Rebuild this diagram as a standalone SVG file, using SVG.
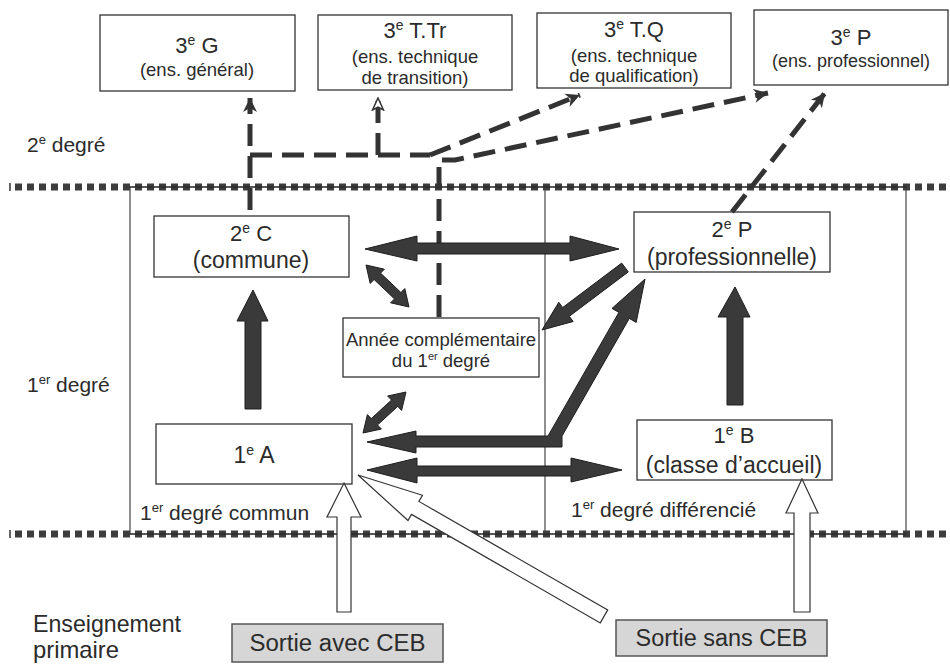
<svg xmlns="http://www.w3.org/2000/svg" width="950" height="666" viewBox="0 0 950 666">
<defs>
<style>
.box{fill:#fff;stroke:#333;stroke-width:1.3}
.gbox{fill:#d6d6d6;stroke:#555;stroke-width:1.5}
.t{font-family:"Liberation Sans",Arial,Helvetica,sans-serif;fill:#2b2b2b}
.dark{fill:#3a3a3a;stroke:#1e1e1e;stroke-width:1}
.white{fill:#fff;stroke:#333;stroke-width:1.2}
.dash{fill:none;stroke:#333;stroke-width:5;stroke-dasharray:22 10}
.band{stroke:#3d3d3d;stroke-width:7;stroke-dasharray:7 5}
.frame{fill:none;stroke:#444;stroke-width:1.2}
</style>
<marker id="ah" markerUnits="userSpaceOnUse" markerWidth="16" markerHeight="16" viewBox="0 0 16 16" refX="15" refY="8" orient="auto">
<path d="M1,1 L15,8 L1,15 L5,8 Z" fill="#333"/>
</marker>
<marker id="ahw" markerUnits="userSpaceOnUse" markerWidth="14" markerHeight="14" viewBox="0 0 14 14" refX="13" refY="7" orient="auto">
<path d="M1,1.5 L13,7 L1,12.5 L4,7 Z" fill="#fff" stroke="#333" stroke-width="1.5"/>
</marker>
</defs>
<rect width="950" height="666" fill="#fff"/>

<g id="bands">
<rect class="frame" x="130" y="187" width="776" height="347"/>
<line class="frame" x1="545" y1="187" x2="545" y2="534"/>
<line class="band" x1="15" y1="187" x2="950" y2="187"/>
<line class="band" x1="15" y1="534" x2="950" y2="534"/>
<line x1="130" y1="187" x2="906" y2="187" stroke="#222" stroke-width="1.2"/>
<line x1="130" y1="534" x2="906" y2="534" stroke="#222" stroke-width="1.2"/>
<line x1="10" y1="183" x2="10" y2="191" stroke="#333" stroke-width="1.5"/>
<line x1="10" y1="530" x2="10" y2="538" stroke="#333" stroke-width="1.5"/>
</g>

<g id="labels">
<text class="t" x="27" y="152" font-size="21">2<tspan dy="-8" font-size="13">e</tspan><tspan dy="8"> degré</tspan></text>
<text class="t" x="27" y="392" font-size="21">1<tspan dy="-8" font-size="13">er</tspan><tspan dy="8"> degré</tspan></text>
<text class="t" x="140" y="520" font-size="21">1<tspan dy="-8" font-size="13">er</tspan><tspan dy="8"> degré commun</tspan></text>
<text class="t" x="571" y="517" font-size="21">1<tspan dy="-8" font-size="13">er</tspan><tspan dy="8"> degré différencié</tspan></text>
<text class="t" x="33" y="632" font-size="24" textLength="148" lengthAdjust="spacingAndGlyphs">Enseignement</text>
<text class="t" x="33" y="658" font-size="24" textLength="86" lengthAdjust="spacingAndGlyphs">primaire</text>
</g>

<g id="n3G">
<rect class="box" x="100" y="15" width="195" height="76"/>
<text class="t" x="197" y="53" font-size="22" text-anchor="middle">3<tspan dy="-8" font-size="14">e</tspan><tspan dy="8"> G</tspan></text>
<text class="t" x="197" y="76" font-size="18.5" text-anchor="middle">(ens. général)</text>
</g>
<g id="n3TTr">
<rect class="box" x="318" y="15" width="194" height="75"/>
<text class="t" x="415" y="38" font-size="22" text-anchor="middle">3<tspan dy="-8" font-size="14">e</tspan><tspan dy="8"> T.Tr</tspan></text>
<text class="t" x="415" y="63" font-size="18.5" text-anchor="middle">(ens. technique</text>
<text class="t" x="415" y="84" font-size="18.5" text-anchor="middle">de transition)</text>
</g>
<g id="n3TQ">
<rect class="box" x="537" y="13" width="194" height="75"/>
<text class="t" x="634" y="37" font-size="22" text-anchor="middle">3<tspan dy="-8" font-size="14">e</tspan><tspan dy="8"> T.Q</tspan></text>
<text class="t" x="634" y="62" font-size="18.5" text-anchor="middle">(ens. technique</text>
<text class="t" x="634" y="82" font-size="18.5" text-anchor="middle">de qualification)</text>
</g>
<g id="n3P">
<rect class="box" x="754" y="10" width="194" height="75"/>
<text class="t" x="851" y="45" font-size="22" text-anchor="middle">3<tspan dy="-8" font-size="14">e</tspan><tspan dy="8"> P</tspan></text>
<text class="t" x="851" y="67" font-size="18" text-anchor="middle">(ens. professionnel)</text>
</g>

<g id="n2C">
<rect class="box" x="154" y="216" width="195" height="61"/>
<text class="t" x="251" y="241" font-size="22" text-anchor="middle">2<tspan dy="-8" font-size="14">e</tspan><tspan dy="8"> C</tspan></text>
<text class="t" x="251" y="268" font-size="23" text-anchor="middle">(commune)</text>
</g>
<g id="n2P">
<rect class="box" x="634" y="212" width="196" height="60"/>
<text class="t" x="732" y="237" font-size="22" text-anchor="middle">2<tspan dy="-8" font-size="14">e</tspan><tspan dy="8"> P</tspan></text>
<text class="t" x="732" y="265" font-size="23" text-anchor="middle">(professionnelle)</text>
</g>
<g id="nAnnee">
<rect class="box" x="343" y="318" width="196" height="59"/>
<text class="t" x="441" y="346" font-size="18.5" text-anchor="middle">Année complémentaire</text>
<text class="t" x="441" y="367" font-size="18.5" text-anchor="middle">du 1<tspan dy="-7" font-size="11">er</tspan><tspan dy="7"> degré</tspan></text>
</g>
<g id="n1A">
<rect class="box" x="156" y="424" width="196" height="60"/>
<text class="t" x="254" y="463" font-size="23" text-anchor="middle">1<tspan dy="-8" font-size="14">e</tspan><tspan dy="8"> A</tspan></text>
</g>
<g id="n1B">
<rect class="box" x="637" y="420" width="195" height="60"/>
<text class="t" x="734" y="443" font-size="22" text-anchor="middle">1<tspan dy="-8" font-size="14">e</tspan><tspan dy="8"> B</tspan></text>
<text class="t" x="734" y="473" font-size="23" text-anchor="middle">(classe d’accueil)</text>
</g>
<g id="nSortieAvec">
<rect class="gbox" x="232" y="624" width="211" height="38"/>
<text class="t" x="337.5" y="651" font-size="23" text-anchor="middle" textLength="176" lengthAdjust="spacingAndGlyphs">Sortie avec CEB</text>
</g>
<g id="nSortieSans">
<rect class="gbox" x="616" y="620" width="211" height="36"/>
<text class="t" x="721.5" y="646" font-size="23" text-anchor="middle" textLength="172" lengthAdjust="spacingAndGlyphs">Sortie sans CEB</text>
</g>

<g id="connectors">
<path class="dash" d="M250,210 V98" marker-end="url(#ah)"/>
<path class="dash" d="M250,155 H430"/>
<path class="dash" d="M378,155 V98" marker-end="url(#ahw)"/>
<path class="dash" d="M430,155 L580,95" marker-end="url(#ah)"/>
<path class="dash" d="M439,317 V160 H455 L768,93" marker-end="url(#ah)"/>
<path class="dash" d="M732,212 L825,93" marker-end="url(#ah)"/>

<polygon class="dark" points="253,290 268,321 261,321 261,409 245,409 245,321 237,321"/>
<polygon class="dark" points="735,287 750,317 743,317 743,405 727,405 727,317 718,317"/>
<polygon class="dark" points="365,249 417,236 417,243 570,243 570,236 619,249 570,261 570,254 417,254 417,261"/>
<polygon class="dark" points="367,470 417,458 417,466 571,466 571,458 622,470 571,482 571,476 417,476 417,483"/>
<polygon class="dark" points="367,442 416,431 416,436 548,436 618.9,312.4 612,308.4 645,279 636.2,322.4 629.3,318.4 562,436 562,447 416,447 416,453"/>
<polygon class="dark" points="542,330 558.8,302.3 562.7,307.5 621.7,263.1 628.3,271.9 569.3,316.3 573.2,321.5"/>
<polygon class="dark" points="366,265 384.4,269.2 380.5,273.1 400.9,292.5 404.8,288.6 409,307 390.6,302.8 394.5,298.9 374.1,279.5 370.2,283.4"/>
<polygon class="dark" points="363,433 381.4,429 377.5,425 397.7,406.4 401.6,410.4 406,392 387.6,396 391.5,400 371.3,418.6 367.4,414.6"/>

<polygon class="white" points="344,483 361,517 351,517 351,612 337,612 337,517 327,517"/>
<polygon class="white" points="802,479 818,513 810,513 810,612 794,612 794,513 786,513"/>
<polygon class="white" points="358,475 422.4,495.3 418.9,501.4 607.7,609.9 600.3,622.9 411.5,514.4 408,520.5"/>
</g>
</svg>
